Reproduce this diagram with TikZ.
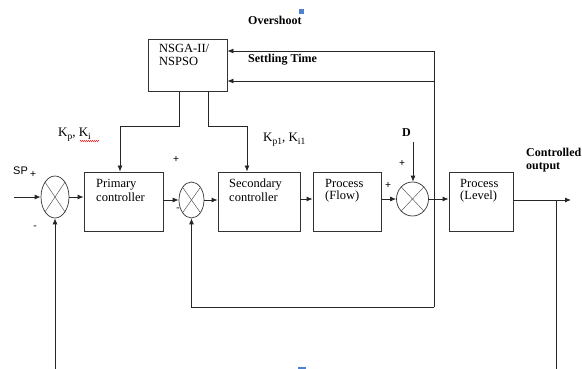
\documentclass[tikz,border=0pt]{standalone}
\usepackage{fontspec}
\setmainfont{Liberation Serif}
\newfontfamily\sansf{Carlito}
\newfontfamily\arialf{Liberation Sans}
\usetikzlibrary{arrows.meta,shapes.geometric,decorations.pathmorphing}
\definecolor{markblue}{HTML}{4F81D0}
\newcommand{\gsub}[1]{\raisebox{-2.2pt}{\fontsize{9.5}{10}\selectfont #1}}
\begin{document}
\begin{tikzpicture}[x=1pt,y=-1pt,
  line/.style={draw=black!85, line width=0.8pt},
  arr/.style={line, -{Latex[length=6pt,width=5pt]}},
  blk/.style={draw=black!80, line width=0.8pt, rectangle, inner sep=0pt},
  sumj/.style={draw=black!80, line width=0.7pt, ellipse, inner sep=0pt},
  crossl/.style={draw=black!65, line width=0.5pt},
  btxt/.style={font=\fontsize{12.5}{14}\selectfont, anchor=base west, inner sep=0pt},
  lbl/.style={font=\fontsize{12}{14}\selectfont\bfseries, anchor=base west, inner sep=0pt},
  gain/.style={font=\fontsize{13}{14}\selectfont, anchor=base west, inner sep=0pt},
  sgn/.style={font=\sansf\fontsize{11}{12}\selectfont, inner sep=0pt}
]
\useasboundingbox (0,0) rectangle (582,369);

% blocks
\node[blk, minimum width=79pt, minimum height=52pt] (nsga) at (187.5,65) {};
\node[blk, minimum width=79pt, minimum height=59pt] (prim) at (123.5,201.5) {};
\node[blk, minimum width=82pt, minimum height=59pt] (sec) at (259,201.5) {};
\node[blk, minimum width=68pt, minimum height=59pt] (flow) at (347,201.5) {};
\node[blk, minimum width=64pt, minimum height=59pt] (level) at (481,201.5) {};

% summing junctions
\node[sumj, minimum width=28pt, minimum height=42pt] (j1) at (55,197) {};
\node[sumj, minimum width=25pt, minimum height=36pt] (j2) at (191.5,200) {};
\node[sumj, minimum width=32pt, minimum height=34pt] (j3) at (412.5,199) {};
\foreach \j in {j1,j2,j3}{
  \draw[crossl] (\j.north east) -- (\j.south west);
  \draw[crossl] (\j.north west) -- (\j.south east);
}

% block texts
\node[btxt] (nsgaa) at (159,53) {NSGA-II/};
\node[btxt] (nsgab) at (159,66) {NSPSO};
\node[btxt] (prima) at (96,187) {Primary};
\node[btxt] (primb) at (96,201) {controller};
\node[btxt] (seca) at (229,187) {Secondary};
\node[btxt] (secb) at (229,201) {controller};
\node[btxt] (flowa) at (325,187) {Process};
\node[btxt] (flowb) at (325,200) {(Flow)};
\node[btxt] (levela) at (460,187) {Process};
\node[btxt] (levelb) at (460,200) {(Level)};

% labels
\node[lbl] (over) at (248,25) {Overshoot};
\node[lbl] (settle) at (248,63) {Settling Time};
\node[lbl] (cona) at (526,157) {Controlled};
\node[lbl] (conb) at (526,170) {output};
\node[lbl] (dl) at (402,137) {D};
\node[gain] (kp) at (58,137) {K\gsub{p}, K\gsub{i}};
\node[gain] (kp1) at (263,142) {K\gsub{p1}, K\gsub{i1}};
\draw[red, line width=0.4pt, decorate, decoration={zigzag, amplitude=0.7pt, segment length=2pt}] (80,141) -- (99,141);
\node[font=\arialf\fontsize{11}{12}\selectfont, anchor=base west, inner sep=0pt] (sp) at (13,175) {SP};
\node[sgn] (s1p) at (33,174) {+};
\node[sgn] (s1m) at (35,228) {-};
\node[sgn] (s2p) at (176,159) {+};
\node[sgn] (s2m) at (178,210) {-};
\node[sgn] (s3p) at (388,185) {+};
\node[sgn] (s3d) at (402,163) {+};

% blue marks
\fill[markblue] (299,9) rectangle (304,14);
\fill[markblue] (298,367) rectangle (306,369);

% forward path
\coordinate (in) at (14,197);
\draw[arr] (in) -- (j1.west);
\draw[arr] (j1.east) -- (j1.east -| prim.west);
\draw[arr] (j2.west -| prim.east) -- (j2.west);
\draw[arr] (j2.east) -- (j2.east -| sec.west);
\draw[arr] (j3.west -| sec.east) -- (j3.west -| flow.west);
\draw[arr] (j3.west -| flow.east) -- (j3.west);
\draw[arr] (j3.east) -- (j3.east -| level.west);
\coordinate (out) at (571,200);
\draw[arr] (out -| level.east) -- (out);

% outer feedback
\coordinate (tap) at (556,200);
\coordinate (fb1) at (556,369);
\draw[line] (tap) -- (fb1);
\draw[arr] (j1.south |- fb1) -- (j1.south);

% disturbance
\coordinate (dtop) at (413,142);
\draw[arr] (dtop) -- (dtop |- j3.north);

% optimiser loop
\coordinate (r1) at (434,51);
\coordinate (r2) at (434,81);
\coordinate (r3) at (434,307);
\draw[line] (r1) -- (r3);
\draw[arr] (r1) -- (r1 -| nsga.east);
\draw[arr] (r2) -- (r2 -| nsga.east);
\draw[arr] (r3) -| (j2.south);

% gains
\coordinate (g1) at (179,126);
\coordinate (g1b) at (120,126);
\draw[arr] (g1 |- nsga.south) -- (g1) -- (g1b) -- (g1b |- prim.north);
\coordinate (g2) at (208,126);
\coordinate (g2b) at (247,126);
\draw[arr] (g2 |- nsga.south) -- (g2) -- (g2b) -- (g2b |- sec.north);
\end{tikzpicture}
\end{document}
